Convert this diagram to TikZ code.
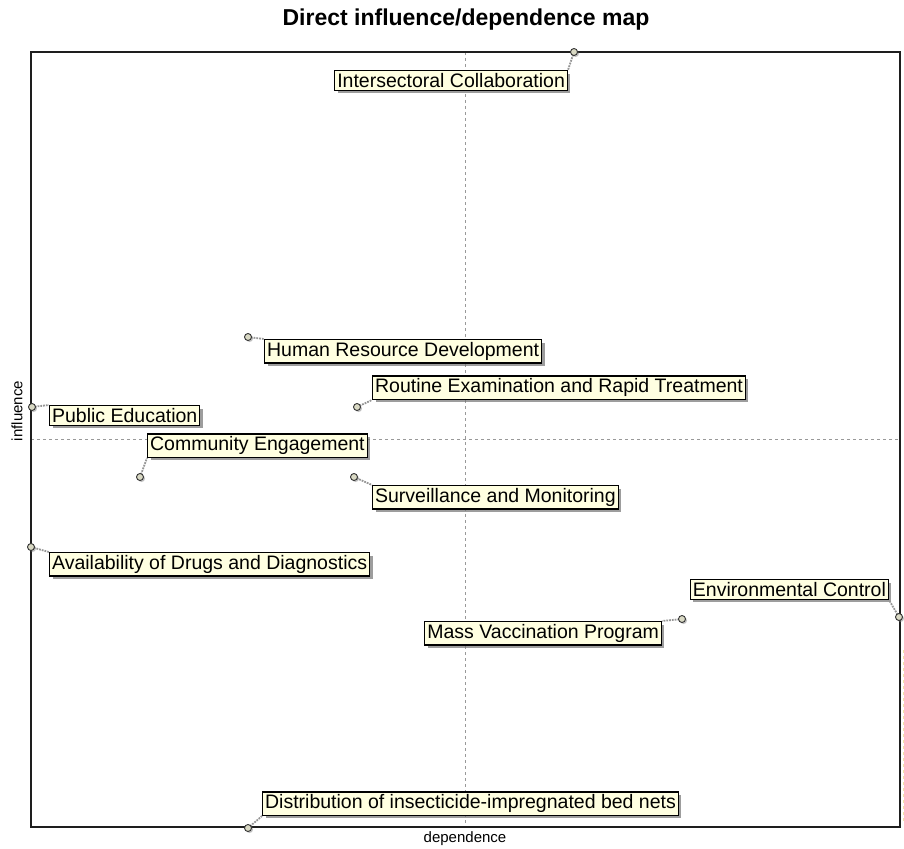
\documentclass[tikz,border=0pt]{standalone}
\usepackage{fontspec}
\setmainfont{Liberation Sans}
\usepackage{tikz}
\usetikzlibrary{shadows,positioning}
\definecolor{tipyellow}{RGB}{255,255,225}
\definecolor{framegray}{RGB}{30,30,30}
\definecolor{leadgray}{RGB}{150,150,150}

\begin{document}
\begin{tikzpicture}[x=1pt,y=-1pt,
  lbl/.style={draw=black, fill=tipyellow, line width=1.2pt, inner xsep=2.5pt, inner ysep=2.6pt,
    font=\fontsize{19.5}{21}\selectfont,
    drop shadow={shadow xshift=3pt, shadow yshift=-3pt, fill=black!55, opacity=0.7}},
  mrk/.style={circle, draw=black!80, fill=tipyellow!70!gray, line width=0.9pt, inner sep=0pt,
    minimum size=7pt, drop shadow={shadow xshift=1.5pt, shadow yshift=-1.5pt, fill=black!50}},
  lead/.style={leadgray, densely dotted, line width=1.8pt}]
  \useasboundingbox (0,0) rectangle (904,848);

  % Title and axis names
  \node[font=\fontsize{23}{25}\bfseries] (title) at (466,20) {Direct influence/dependence map};
  \node[font=\fontsize{15}{16}\selectfont, rotate=90] (infl) at (17,411) {influence};
  \node[font=\fontsize{15}{16}\selectfont] (dep) at (465,839) {dependence};

  % Frame and centre lines
  \draw[gray!80, dashed, line width=0.6pt] (465,52) -- (465,827);
  \draw[gray!80, dashed, line width=0.6pt] (31,439) -- (900,439);
  \draw[framegray, line width=1.2pt] (31,52) rectangle (900,827);
  \draw[yellow!50!brown!40, dashed, line width=0.8pt] (903,650) -- (903,822);

  % Variables: labels (placed by the corner that the leader meets)
  \node[lbl, anchor=north east] (icol) at (568,70)  {Intersectoral Collaboration};
  \node[lbl, anchor=north west] (hrd)  at (264,339) {Human Resource Development};
  \node[lbl, anchor=south west] (rert) at (372,400) {Routine Examination and Rapid Treatment};
  \node[lbl, anchor=north west] (pedu) at (49,405)  {Public Education};
  \node[lbl, anchor=south west] (ceng) at (147,458) {Community Engagement};
  \node[lbl, anchor=north west] (surv) at (372,485) {Surveillance and Monitoring};
  \node[lbl, anchor=north west] (adrg) at (49,552)  {Availability of Drugs and Diagnostics};
  \node[lbl, anchor=south east] (envc) at (889,600) {Environmental Control};
  \node[lbl, anchor=north east] (mvac) at (662,621) {Mass Vaccination Program};
  \node[lbl, anchor=south west] (bnet) at (262,816) {Distribution of insecticide-impregnated bed nets};

  % Variables: plotted points (positions only, drawn after leaders)
  \coordinate (c-icol) at (574,52);
  \coordinate (c-hrd)  at (248,337);
  \coordinate (c-rert) at (357,407);
  \coordinate (c-pedu) at (32,407);
  \coordinate (c-ceng) at (140,477);
  \coordinate (c-surv) at (354,477);
  \coordinate (c-adrg) at (31,547);
  \coordinate (c-envc) at (899,617);
  \coordinate (c-mvac) at (682,619);
  \coordinate (c-bnet) at (248,828);

  % Leaders
  \draw[lead] (c-icol) -- (icol.north east);
  \draw[lead] (c-hrd)  -- (hrd.north west);
  \draw[lead] (c-rert) -- (rert.south west);
  \draw[lead] (c-pedu) -- (pedu.north west);
  \draw[lead] (c-ceng) -- (ceng.south west);
  \draw[lead] (c-surv) -- (surv.north west);
  \draw[lead] (c-adrg) -- (adrg.north west);
  \draw[lead] (c-envc) -- (envc.south east);
  \draw[lead] (c-mvac) -- (mvac.north east);
  \draw[lead] (c-bnet) -- (bnet.south west);

  % Points on top
  \foreach \v in {icol,hrd,rert,pedu,ceng,surv,adrg,envc,mvac,bnet}
    \node[mrk] (p-\v) at (c-\v) {};
\end{tikzpicture}
\end{document}
